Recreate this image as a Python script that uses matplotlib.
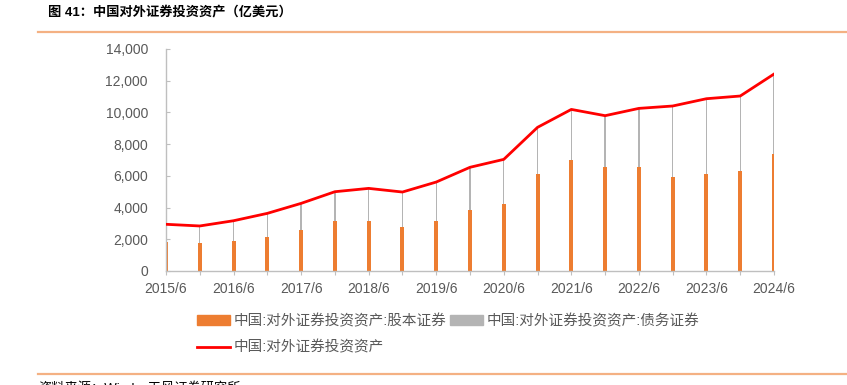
import numpy as np
import matplotlib.pyplot as plt
from matplotlib.lines import Line2D
from matplotlib.patches import Patch

plt.rcParams['font.family'] = ['Liberation Sans', 'Noto Sans CJK SC', 'DejaVu Sans']

# 半年度数据，2015/6 - 2024/6
periods = ['2015/6', '2015/12', '2016/6', '2016/12', '2017/6', '2017/12', '2018/6', '2018/12',
           '2019/6', '2019/12', '2020/6', '2020/12', '2021/6', '2021/12', '2022/6', '2022/12',
           '2023/6', '2023/12', '2024/6']
total = [2945, 2840, 3170, 3635, 4265, 5000, 5210, 4980, 5610, 6540, 7040, 9060, 10190,
         9795, 10255, 10405, 10865, 11035, 12420]
equity = [1830, 1765, 1910, 2145, 2605, 3130, 3130, 2755, 3130, 3825, 4205, 6095, 7020,
          6555, 6555, 5950, 6095, 6325, 7400]
debt = [t - e for t, e in zip(total, equity)]

c_eq = '#ED7D31'
c_debt = '#B4B4B4'
c_tot = '#FF0000'
c_txt = '#595959'
c_rule = '#F4B183'

fig = plt.figure(figsize=(8.47, 3.85), dpi=100)
ax = fig.add_axes([166/847, 1-271/385, (774-166)/847, (271-49)/385])

x = np.arange(len(periods))
ax.bar(x, equity, width=0.12, color=c_eq, zorder=2)
ax.bar(x, debt, bottom=equity, width=0.04, color=c_debt, zorder=2)
ax.plot(x, total, color=c_tot, lw=2.0, zorder=3)

ax.set_xlim(0, len(periods) - 1)
ax.set_ylim(0, 14000)
ax.set_yticks(np.arange(0, 14001, 2000))
ax.set_yticklabels([f'{v:,}' for v in range(0, 14001, 2000)])
ax.set_xticks(x)
ax.set_xticklabels([p if i % 2 == 0 else '' for i, p in enumerate(periods)])

for s in ['top', 'right']:
    ax.spines[s].set_visible(False)
for s in ['left', 'bottom']:
    ax.spines[s].set_color('#BFBFBF')
    ax.spines[s].set_linewidth(1.0)
ax.tick_params(axis='y', direction='in', length=3, color='#BFBFBF', labelsize=10,
               labelcolor=c_txt, pad=13)
ax.tick_params(axis='x', direction='out', length=3, color='#BFBFBF', labelsize=10,
               labelcolor=c_txt, pad=5)

handles = [Patch(color=c_eq), Line2D([0], [0], color=c_tot, lw=2.0), Patch(color=c_debt)]
labels = ['中国:对外证券投资资产:股本证券', '中国:对外证券投资资产', '中国:对外证券投资资产:债务证券']
leg = fig.legend(handles, labels, ncol=2, loc='upper left', bbox_to_anchor=(197/847, 1-314/385),
                 frameon=False, fontsize=10.5, handlelength=2.25, handleheight=0.7,
                 handletextpad=0.25, columnspacing=0.25, labelspacing=0.85,
                 borderpad=0, borderaxespad=0)
for t in leg.get_texts():
    t.set_color(c_txt)

# 标题与分隔线
fig.text(48/847, 1-12/385, '图 41：中国对外证券投资资产（亿美元）', fontsize=9.5, fontweight='bold',
         va='center', ha='left', color='#000000')
fig.add_artist(Line2D([38/847, 1], [1-31.5/385, 1-31.5/385], color=c_rule, lw=1.6))
fig.add_artist(Line2D([38/847, 1], [1-374/385, 1-374/385], color=c_rule, lw=1.6))
fig.text(38/847, 1-383/385, '资料来源：Wind，天风证券研究所', fontsize=9.5, va='top', ha='left',
         color='#000000')

fig.savefig('out.png', dpi=100)
